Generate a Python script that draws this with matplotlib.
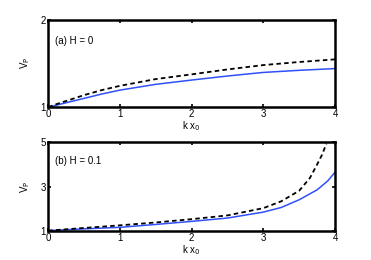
import matplotlib
matplotlib.use("Agg")
import matplotlib.pyplot as plt

plt.rcParams['font.family'] = ['Liberation Sans', 'DejaVu Sans']

# Panel (a) H = 0
kx_a = [0, 0.1, 0.25, 0.5, 0.75, 1.0, 1.5, 2.0, 2.5, 3.0, 3.5, 4.0]
vp_a_dashed = [1.0, 1.03, 1.07, 1.137, 1.195, 1.243, 1.32, 1.374, 1.43, 1.48, 1.515, 1.545]
vp_a_solid = [1.0, 1.02, 1.05, 1.10, 1.15, 1.194, 1.26, 1.309, 1.355, 1.396, 1.42, 1.44]

# Panel (b) H = 0.1
kx_b_dashed = [0, 0.5, 1.0, 1.5, 2.0, 2.5, 3.0, 3.25, 3.5, 3.65, 3.75, 3.82, 3.88]
vp_b_dashed = [1.0, 1.12, 1.24, 1.37, 1.52, 1.69, 2.02, 2.33, 2.81, 3.39, 4.0, 4.45, 4.95]
kx_b_solid = [0, 0.5, 1.0, 1.5, 2.0, 2.5, 3.0, 3.25, 3.5, 3.75, 3.9, 4.0]
vp_b_solid = [1.0, 1.08, 1.15, 1.28, 1.42, 1.57, 1.84, 2.05, 2.40, 2.85, 3.26, 3.65]

labels = ["(a) H = 0", "(b) H = 0.1"]
xticks = [0, 1, 2, 3, 4]
yticks_a = [1, 2]
yticks_b = [1, 3, 5]

fig = plt.figure(figsize=(3.71, 2.60), dpi=100)
ax1 = fig.add_axes([0.130, 0.588, 0.773, 0.337])
ax2 = fig.add_axes([0.130, 0.113, 0.773, 0.339])

blue = '#3050f8'

def style(ax, yticks, ylim):
    ax.set_xlim(0, 4)
    ax.set_ylim(*ylim)
    ax.set_xticks(xticks)
    ax.set_yticks(yticks)
    ax.tick_params(direction='in', top=True, right=True, length=2.5, width=1.2,
                   labelsize=7, pad=1.5)
    for s in ax.spines.values():
        s.set_linewidth(1.8)
    ax.set_xlabel(r'k x$_0$', fontsize=7, labelpad=0)
    ax.set_ylabel(r'V$_\mathrm{P}$', fontsize=7, labelpad=6)

ax1.plot(kx_a, vp_a_solid, color=blue, lw=1.1)
ax1.plot(kx_a, vp_a_dashed, color='black', lw=1.3, dashes=(2.5, 1.8))
style(ax1, yticks_a, (1, 2))
ax1.text(0.025, 0.75, labels[0], transform=ax1.transAxes, fontsize=7, va='center')

ax2.plot(kx_b_solid, vp_b_solid, color=blue, lw=1.1)
ax2.plot(kx_b_dashed, vp_b_dashed, color='black', lw=1.3, dashes=(2.5, 1.8))
style(ax2, yticks_b, (1, 5))
ax2.text(0.025, 0.79, labels[1], transform=ax2.transAxes, fontsize=7, va='center')

fig.savefig('out.png', dpi=100)
